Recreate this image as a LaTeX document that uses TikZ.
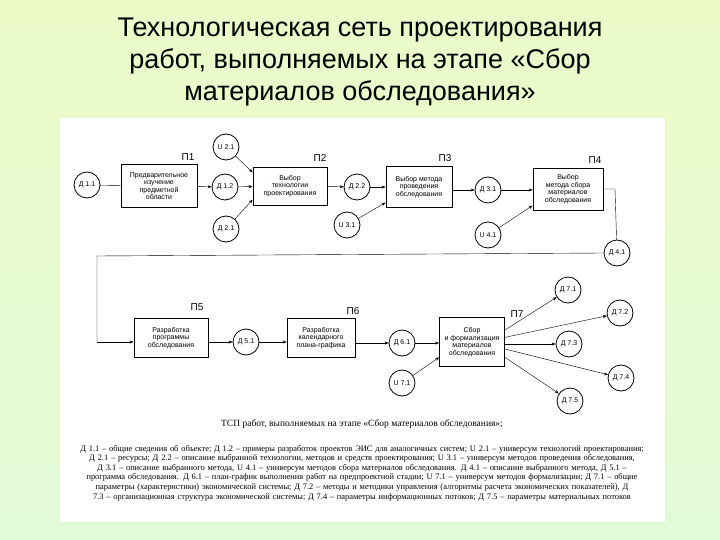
\documentclass[tikz,border=0pt]{standalone}
\usepackage{fontspec}
\setmainfont{Liberation Serif}
\newfontfamily\sansf{Liberation Sans}
\usetikzlibrary{arrows.meta}
\begin{document}
\begin{tikzpicture}[x=1pt,y=-1pt,
  circ/.style={draw,circle,thick,minimum size=26pt,inner sep=0pt,font=\sansf\fontsize{7}{7}\selectfont},
  proc/.style={draw,thick,align=center,inner sep=1pt,font=\sansf\fontsize{7}{7.5}\selectfont},
  plab/.style={font=\sansf\fontsize{10}{10}\selectfont},
  arr/.style={-{Stealth[length=4pt,width=3pt]},thin},
  ln/.style={thin}]
\shade[top color={rgb,255:red,236;green,250;blue,200},bottom color={rgb,255:red,225;green,250;blue,215}] (0,0) rectangle (720,540);
\useasboundingbox (0,0) rectangle (720,540);
\fill[white] (60,118) rectangle (665,522);
\node[font=\sansf\fontsize{27}{32}\selectfont,align=center] (title) at (360,62) {Технологическая сеть проектирования\\работ, выполняемых на этапе «Сбор\\материалов обследования»};
% row 1
\node[circ] (d11) at (87,185) {Д 1.1};
\node[proc,minimum width=76pt,minimum height=43pt] (p1) at (159,186) {Предварительное\\изучение\\предметной\\области};
\node[plab] (l1) at (188,157) {П1};
\node[circ] (d12) at (225,187) {Д 1.2};
\node[circ] (u21) at (226,147) {U 2.1};
\node[circ] (d21) at (226,229) {Д 2.1};
\node[proc,minimum width=74pt,minimum height=38pt] (p2) at (290,186) {Выбор\\технологии\\проектирования};
\node[plab] (l2) at (320,158) {П2};
\node[circ] (d22) at (357,187) {Д 2.2};
\node[circ] (u31) at (347,225) {U 3.1};
\node[proc,minimum width=66pt,minimum height=41pt] (p3) at (419,187) {Выбор метода\\проведения\\обследования};
\node[plab] (l3) at (445,158) {П3};
\node[circ] (d31) at (488,190) {Д 3.1};
\node[circ] (u41) at (488,235) {U 4.1};
\node[proc,minimum width=70pt,minimum height=42pt] (p4) at (568,189) {Выбор\\метода сбора\\материалов\\обследования};
\node[plab] (l4) at (595,160) {П4};
\node[circ] (d41) at (617,253) {Д 4.1};
% row 2
\node[proc,minimum width=74pt,minimum height=39pt] (p5) at (171,338) {Разработка\\программы\\обследования};
\node[plab] (l5) at (197,307) {П5};
\node[circ] (d51) at (246,342) {Д 5.1};
\node[proc,minimum width=68pt,minimum height=39pt] (p6) at (321,338) {Разработка\\календарного\\плана-графика};
\node[plab] (l6) at (353,311) {П6};
\node[circ] (d61) at (402,343) {Д 6.1};
\node[circ] (u71) at (402,383) {U 7.1};
\node[proc,minimum width=65pt,minimum height=49pt] (p7) at (472,342) {Сбор\\и формализация\\материалов\\обследования};
\node[plab] (l7) at (517,314) {П7};
\node[circ] (d71) at (568,290) {Д 7.1};
\node[circ] (d72) at (620,313) {Д 7.2};
\node[circ] (d73) at (569,344) {Д 7.3};
\node[circ] (d74) at (621,378) {Д 7.4};
\node[circ] (d75) at (570,401) {Д 7.5};
\coordinate (c1) at (615,189);
\coordinate (c2) at (97,256);
\coordinate (c3) at (97,342);
% connectors
\draw[ln] (d11) -- (p1);
\draw[arr] (p1) -- (d12);
\draw[arr] (d12) -- (p2);
\draw[arr] (u21) -- (p2.160);
\draw[arr] (d21) -- (p2.200);
\draw[arr] (p2) -- (d22);
\draw[arr] (d22) -- (p3.west|-d22);
\draw[arr] (u31) -- (p3.205);
\draw[arr,thick] (p3.east|-d31) -- (d31);
\draw[arr] (d31) -- (p4.west|-d31);
\draw[arr] (u41) -- (p4.205);
\draw[ln] (p4.east|-c1) -- (c1) -- (d41);
\draw[ln] (d41.west) -- (c2) -- (c3);
\draw[arr] (c3) -- (p5.west|-c3);
\draw[arr] (p5.east|-d51) -- (d51);
\draw[arr] (d51) -- (p6.west|-d51);
\draw[arr] (p6.east|-d61) -- (d61);
\draw[arr,thick] (d61) -- (p7.west|-d61);
\draw[arr] (u71) -- (p7.205);
\draw[arr] (p7.20) -- (d71);
\draw[arr] (p7.8) -- (d72);
\draw[arr] (p7.east|-d73) -- (d73);
\draw[arr] (p7.-12) -- (d74);
\draw[arr] (p7.-25) -- (d75);
% caption
\node[font=\fontsize{9.5}{10}\selectfont] (cap) at (362,424) {ТСП работ, выполняемых на этапе «Сбор материалов обследования»;};
\node[font=\fontsize{8.4}{9.6}\selectfont,text width=590pt,align=center] (txt) at (362,473) {Д 1.1 – общие сведения об объекте; Д 1.2 – примеры разработок проектов ЭИС для аналогичных систем; U 2.1 – универсум технологий проектирования; Д 2.1 – ресурсы; Д 2.2 – описание выбранной технологии, методов и средств проектирования; U 3.1 – универсум методов проведения обследования, Д 3.1 – описание выбранного метода, U 4.1 – универсум методов сбора материалов обследования. Д 4.1 – описание выбранного метода, Д 5.1 – программа обследования. Д 6.1 – план-график выполнения работ на предпроектной стадии; U 7.1 – универсум методов формализации; Д 7.1 – общие параметры (характеристики) экономической системы; Д 7.2 – методы и методики управления (алгоритмы расчета экономических показателей), Д 7.3 – организационная структура экономической системы; Д 7.4 – параметры информационных потоков; Д 7.5 – параметры материальных потоков};
\end{tikzpicture}
\end{document}
